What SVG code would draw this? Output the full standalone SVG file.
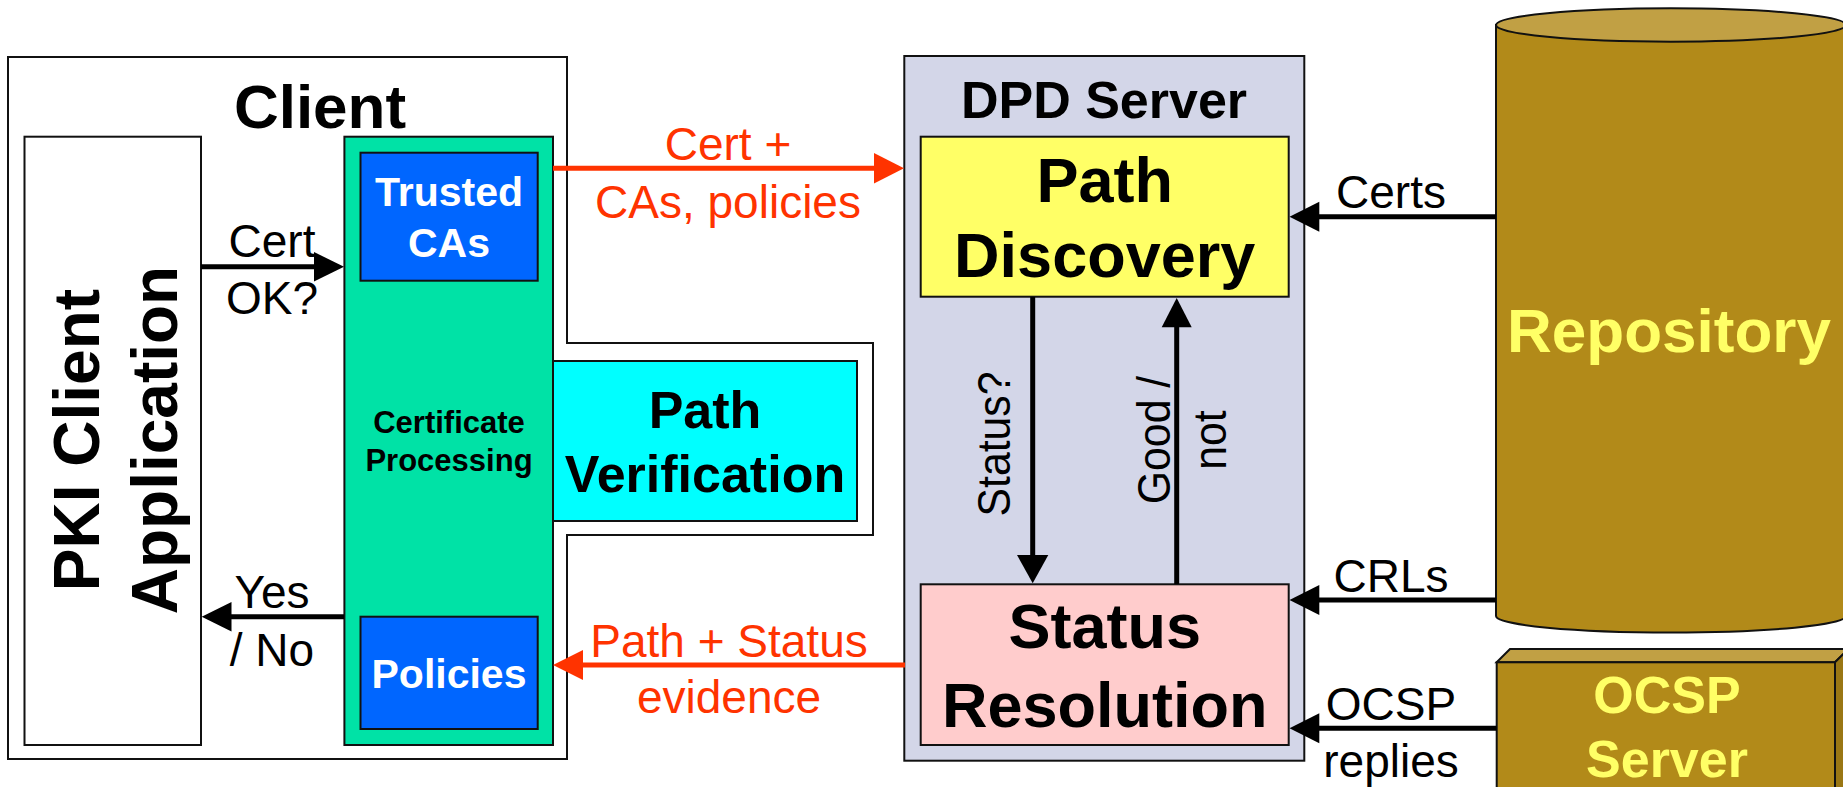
<svg xmlns="http://www.w3.org/2000/svg" width="1843" height="787" viewBox="0 0 1843 787">
  <style>
    .box { stroke: #111; stroke-width: 2; }
    .lbl { font-family: "Liberation Sans", Arial, sans-serif; font-size: 46px; fill: #000; text-anchor: middle; }
    .red { fill: #FF3300; }
    .bold { font-family: "Liberation Sans", Arial, sans-serif; font-weight: bold; text-anchor: middle; fill: #000; }
    .white { fill: #FFFFFF; }
    .gold-text { fill: #FFFF66; }
    .blk { stroke: #000; stroke-width: 5; fill: none; }
    .rline { stroke: #FF3300; stroke-width: 5; fill: none; }
    .head { fill: #000; }
    .rhead { fill: #FF3300; }
    .gold { fill: #B28A19; stroke: #111; stroke-width: 2; }
    .gold-lite { fill: #C1A044; stroke: #111; stroke-width: 2; }
    .gold-dark { fill: #9A7714; stroke: #111; stroke-width: 2; }
  </style>

  <rect width="1843" height="787" fill="#FFFFFF"/>

  <!-- Client host outline -->
  <g id="client">
    <polygon class="box" fill="#FFFFFF" points="8,57 567,57 567,343 873,343 873,535 567,535 567,759 8,759"/>
    <text class="bold" x="320" y="128" font-size="62">Client</text>
  </g>

  <g id="pki-client-application">
    <rect class="box" x="24.5" y="136.7" width="176.5" height="608.3" fill="#FFFFFF"/>
    <text class="bold" font-size="64" transform="translate(99,440) rotate(-90)">PKI Client</text>
    <text class="bold" font-size="64" transform="translate(176.7,440) rotate(-90)">Application</text>
  </g>

  <g id="certificate-processing">
    <rect class="box" x="344.4" y="136.7" width="208.6" height="608.3" fill="#00E2A6"/>
    <text class="bold" x="449" y="433" font-size="31">Certificate</text>
    <text class="bold" x="449" y="470.7" font-size="31">Processing</text>
  </g>

  <g id="path-verification">
    <rect class="box" x="553" y="361" width="304" height="160" fill="#00FFFF"/>
    <text class="bold" x="705" y="428" font-size="52">Path</text>
    <text class="bold" x="705" y="492" font-size="52">Verification</text>
  </g>

  <g id="trusted-cas">
    <rect class="box" x="360.5" y="152.7" width="177.2" height="128" fill="#0066FF"/>
    <text class="bold white" x="449" y="205.7" font-size="41">Trusted</text>
    <text class="bold white" x="449" y="257" font-size="41">CAs</text>
  </g>

  <g id="policies">
    <rect class="box" x="360.5" y="616.7" width="177.2" height="112.3" fill="#0066FF"/>
    <text class="bold white" x="449" y="688" font-size="41">Policies</text>
  </g>

  <!-- DPD server and its two components -->
  <g id="dpd-server">
    <rect class="box" x="904.3" y="56" width="400" height="704.7" fill="#D3D6E8"/>
    <text class="bold" x="1104" y="118" font-size="52">DPD Server</text>
  </g>

  <g id="path-discovery">
    <rect class="box" x="920.7" y="136.7" width="368" height="160" fill="#FFFF66"/>
    <text class="bold" x="1104.7" y="201.7" font-size="63">Path</text>
    <text class="bold" x="1104.7" y="277" font-size="63">Discovery</text>
  </g>

  <g id="status-resolution">
    <rect class="box" x="920.7" y="584.3" width="368" height="160.7" fill="#FFCCCC"/>
    <text class="bold" x="1104.7" y="648.3" font-size="63">Status</text>
    <text class="bold" x="1104.7" y="726.7" font-size="63">Resolution</text>
  </g>

  <!-- Repository cylinder -->
  <g id="repository">
    <path class="gold" d="M1496,25 L1496,616 A175,16.5 0 0 0 1846,616 L1846,25 Z"/>
    <ellipse class="gold-lite" cx="1671" cy="25" rx="175" ry="16.7"/>
    <text class="bold gold-text" x="1669" y="351.7" font-size="62">Repository</text>
  </g>

  <!-- OCSP server block -->
  <g id="ocsp-server">
    <polygon class="gold-lite" points="1496.7,662.3 1510,649 1848.3,649 1835,662.3"/>
    <polygon class="gold-dark" points="1835,662.3 1848.3,649 1848.3,800 1835,800"/>
    <rect class="gold" x="1496.7" y="662.3" width="338.3" height="140"/>
    <text class="bold gold-text" x="1667" y="713.3" font-size="52">OCSP</text>
    <text class="bold gold-text" x="1667" y="776.7" font-size="52">Server</text>
  </g>

  <!-- Connectors -->
  <g id="connectors">
    <!-- application -> certificate processing -->
    <line class="blk" x1="201" y1="266.7" x2="316" y2="266.7"/>
    <polygon class="head" points="344,266.7 314,252 314,281.4"/>
    <text class="lbl" x="272" y="257">Cert</text>
    <text class="lbl" x="272" y="314">OK?</text>

    <!-- certificate processing -> application -->
    <line class="blk" x1="344" y1="616.7" x2="229" y2="616.7"/>
    <polygon class="head" points="201.7,616.7 231.5,602 231.5,631.4"/>
    <text class="lbl" x="272" y="608">Yes</text>
    <text class="lbl" x="272" y="666">/ No</text>

    <!-- request to DPD server -->
    <line class="rline" x1="553" y1="168.3" x2="876" y2="168.3"/>
    <polygon class="rhead" points="904,168.3 874,153 874,183.6"/>
    <text class="lbl red" x="728" y="160">Cert +</text>
    <text class="lbl red" x="728" y="218">CAs, policies</text>

    <!-- response from DPD server -->
    <line class="rline" x1="905" y1="665" x2="581" y2="665"/>
    <polygon class="rhead" points="553,665 583,650 583,680"/>
    <text class="lbl red" x="729" y="656.7">Path + Status</text>
    <text class="lbl red" x="729" y="713">evidence</text>

    <!-- path discovery <-> status resolution -->
    <line class="blk" x1="1032.7" y1="297" x2="1032.7" y2="557"/>
    <polygon class="head" points="1032.7,583.3 1017,555 1048.3,555"/>
    <text class="lbl" transform="translate(1010,444) rotate(-90) scale(0.93,1)" font-size="50">Status?</text>

    <line class="blk" x1="1176.7" y1="584" x2="1176.7" y2="325"/>
    <polygon class="head" points="1176.7,298 1161.7,327.3 1191.7,327.3"/>
    <text class="lbl" transform="translate(1170,440) rotate(-90) scale(0.93,1)" font-size="50">Good /</text>
    <text class="lbl" transform="translate(1226,440) rotate(-90) scale(0.93,1)" font-size="50">not</text>

    <!-- repository / OCSP feeds -->
    <line class="blk" x1="1496" y1="216.7" x2="1317" y2="216.7"/>
    <polygon class="head" points="1289.5,216.7 1319.3,201.7 1319.3,231.7"/>
    <text class="lbl" x="1391" y="208.3">Certs</text>

    <line class="blk" x1="1496" y1="600" x2="1317" y2="600"/>
    <polygon class="head" points="1289.5,600 1319.3,585 1319.3,615"/>
    <text class="lbl" x="1391" y="591.7">CRLs</text>

    <line class="blk" x1="1496.7" y1="728.3" x2="1317" y2="728.3"/>
    <polygon class="head" points="1289.5,728.3 1319.3,713.3 1319.3,743.3"/>
    <text class="lbl" x="1391" y="720">OCSP</text>
    <text class="lbl" x="1391" y="776.7">replies</text>
  </g>
</svg>
